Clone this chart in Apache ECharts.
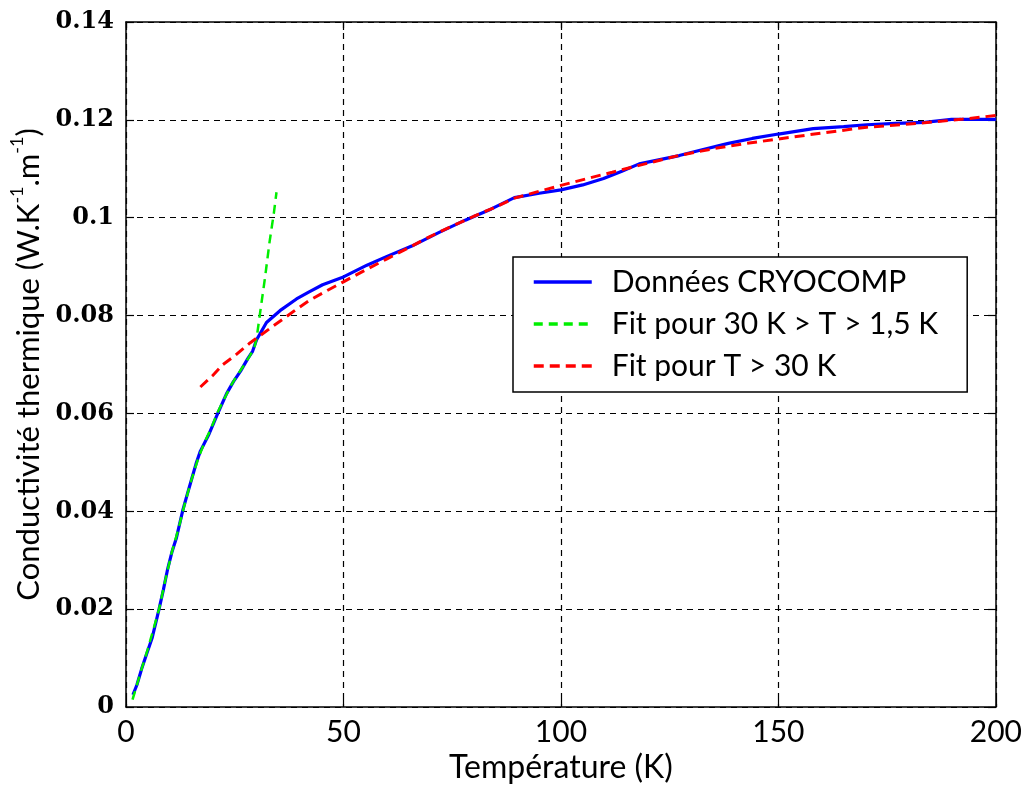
<!DOCTYPE html>
<html>
<head>
<meta charset="utf-8">
<script src="https://cdn.jsdelivr.net/npm/echarts@6/dist/echarts.min.js"></script>
<style>
  html, body { margin: 0; padding: 0; background: #ffffff; }
  #chart { width: 1025px; height: 789px; }
</style>
</head>
<body>
<div id="chart"></div>
<script>
// Thermal conductivity vs temperature: CRYOCOMP data and two fits
const xTicks = [0, 50, 100, 150, 200];
const yTicks = [0, 0.02, 0.04, 0.06, 0.08, 0.1, 0.12, 0.14];

const seriesNames = [
  'Données CRYOCOMP',
  'Fit pour 30 K > T > 1,5 K',
  'Fit pour T > 30 K'
];

// [T (K), k (W/K/m)]
const cryocomp = [
  [1.6, 0.0025], [2.5, 0.0045], [3.6, 0.0078], [4.8, 0.0110], [6.0, 0.0141],
  [7.6, 0.0200], [8.6, 0.0240], [9.6, 0.0283], [10.6, 0.0318], [11.6, 0.0346],
  [13.0, 0.0400], [14.0, 0.0432], [15.1, 0.0466], [16.1, 0.0497], [17.1, 0.0523],
  [19.1, 0.0558], [21.1, 0.0600], [23.1, 0.0640], [24.7, 0.0665], [26.3, 0.0686],
  [28.0, 0.0712], [29.1, 0.0727], [30.0, 0.0750], [32.3, 0.0786], [35.4, 0.0810],
  [39.2, 0.0834], [42.0, 0.0848], [45.2, 0.0863], [50.0, 0.0879], [55.4, 0.0903],
  [60.0, 0.0921], [65.7, 0.0942], [72.0, 0.0970], [78.0, 0.0995], [84.0, 0.1018],
  [89.3, 0.1041], [95.0, 0.1050], [100.0, 0.1057], [105.0, 0.1067], [109.8, 0.1080],
  [114.0, 0.1095], [118.0, 0.1110], [127.2, 0.1127], [132.0, 0.1138], [138.5, 0.1152],
  [144.0, 0.1162], [150.0, 0.1171], [158.0, 0.1182], [165.0, 0.1186], [170.3, 0.1190],
  [177.0, 0.1193], [183.6, 0.1195], [189.8, 0.1201], [195.0, 0.1201], [200.0, 0.1201]
];

const fitLow = [
  [1.5, 0.0015], [2.5, 0.0045], [3.6, 0.0078], [5.0, 0.0118], [6.5, 0.0165],
  [7.6, 0.0200], [9.0, 0.0258], [10.5, 0.0315], [12.0, 0.0362], [13.5, 0.0415],
  [15.0, 0.0463], [16.5, 0.0505], [18.0, 0.0540], [19.5, 0.0568], [21.1, 0.0603],
  [22.5, 0.0628], [24.0, 0.0655], [25.5, 0.0677], [27.0, 0.0697], [28.5, 0.0718],
  [29.5, 0.0734], [30.0, 0.0752], [30.9, 0.0810], [32.0, 0.0880], [33.0, 0.0950],
  [34.0, 0.1010], [34.6, 0.1052]
];

const fitHigh = [
  [17.1, 0.0654], [20.0, 0.0678], [22.3, 0.0700], [25.0, 0.0718], [28.5, 0.0744],
  [31.0, 0.0760], [33.9, 0.0779], [36.0, 0.0792], [39.2, 0.0813], [42.0, 0.0830],
  [46.0, 0.0850], [50.0, 0.0869], [55.0, 0.0893], [60.0, 0.0916], [65.7, 0.0942],
  [70.0, 0.0962], [75.0, 0.0983], [80.0, 0.1003], [85.0, 0.1022], [89.3, 0.1040],
  [95.0, 0.1054], [100.0, 0.1066], [106.0, 0.1080], [111.8, 0.1093], [118.0, 0.1107],
  [127.0, 0.1127], [135.0, 0.1141], [142.0, 0.1151], [150.0, 0.1161], [160.0, 0.1173],
  [170.3, 0.1185], [183.6, 0.1194], [192.0, 0.1201], [200.0, 0.1209]
];

const sansFont = 'Lato, "Open Sans", sans-serif';
const tickFont = '"DejaVu Serif", serif';

const chart = echarts.init(document.getElementById('chart'), null, { renderer: 'canvas' });

const frameAxis = {
  axisLine: { show: true, onZero: false, lineStyle: { color: '#000', width: 1.5 } },
  axisTick: { show: true, inside: true, length: 8, lineStyle: { color: '#000', width: 1.2 } }
};

chart.setOption({
  backgroundColor: '#ffffff',
  animation: false,
  grid: { left: 126, right: 29, top: 22, bottom: 80, containLabel: false },
  legend: {
    orient: 'vertical',
    left: 513,
    top: 257,
    padding: [10, 29, 11, 19],
    itemWidth: 58,
    itemHeight: 14,
    itemGap: 12,
    borderColor: '#000',
    borderWidth: 1.5,
    backgroundColor: '#ffffff',
    itemStyle: { opacity: 0 },
    lineStyle: { width: 3.5 },
    textStyle: {
      fontFamily: sansFont,
      fontSize: 30,
      color: '#000',
      lineHeight: 30,
      padding: [0, 0, 0, 15]
    },
    data: seriesNames
  },
  xAxis: [
    Object.assign({
      type: 'value',
      min: xTicks[0],
      max: xTicks[xTicks.length - 1],
      interval: 50,
      position: 'bottom',
      name: 'Température (K)',
      nameLocation: 'middle',
      nameGap: 45,
      nameTextStyle: { fontFamily: sansFont, fontSize: 32, color: '#000' },
      axisLabel: { fontFamily: sansFont, fontSize: 30, color: '#000', margin: 10 },
      splitLine: { show: true, lineStyle: { color: '#000', width: 1.2, type: [6, 5] } }
    }, frameAxis),
    Object.assign({
      type: 'value',
      min: xTicks[0],
      max: xTicks[xTicks.length - 1],
      interval: 50,
      position: 'top',
      axisLabel: { show: false },
      splitLine: { show: false }
    }, frameAxis)
  ],
  yAxis: [
    Object.assign({
      type: 'value',
      min: yTicks[0],
      max: yTicks[yTicks.length - 1],
      interval: 0.02,
      position: 'left',
      name: '{t|Conductivité thermique (W.K}{s|-1}{t|.m}{s|-1}{t|)}',
      nameLocation: 'middle',
      nameGap: 76,
      nameTextStyle: {
        rich: {
          t: { fontFamily: sansFont, fontSize: 31, color: '#000', lineHeight: 36, verticalAlign: 'bottom' },
          s: { fontFamily: sansFont, fontSize: 18, color: '#000', lineHeight: 18, verticalAlign: 'top' }
        }
      },
      axisLabel: {
        fontFamily: tickFont, fontWeight: 'bold', fontSize: 24, color: '#000', margin: 12,
        formatter: v => String(parseFloat(v.toFixed(2)))
      },
      splitLine: { show: true, lineStyle: { color: '#000', width: 1.2, type: [6, 5] } }
    }, frameAxis),
    Object.assign({
      type: 'value',
      min: yTicks[0],
      max: yTicks[yTicks.length - 1],
      interval: 0.02,
      position: 'right',
      axisLabel: { show: false },
      splitLine: { show: false }
    }, frameAxis)
  ],
  series: [
    {
      name: seriesNames[0], type: 'line', data: cryocomp, symbol: 'none',
      color: '#0000ff', lineStyle: { color: '#0000ff', width: 3.2 }, z: 2
    },
    {
      name: seriesNames[1], type: 'line', data: fitLow, symbol: 'none',
      color: '#00ee00', lineStyle: { color: '#00ee00', width: 2.5, type: [9, 6] }, z: 3
    },
    {
      name: seriesNames[2], type: 'line', data: fitHigh, symbol: 'none',
      color: '#ff0000', lineStyle: { color: '#ff0000', width: 3, type: [10, 6] }, z: 4
    }
  ]
});
</script>
</body>
</html>
